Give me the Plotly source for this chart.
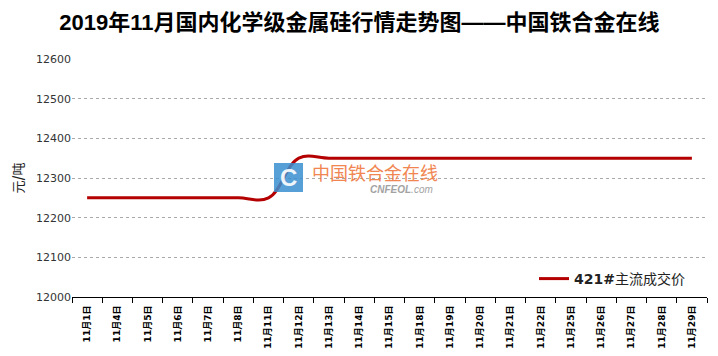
import plotly.graph_objects as go

dates = ["11月1日", "11月4日", "11月5日", "11月6日", "11月7日", "11月8日", "11月11日",
         "11月12日", "11月13日", "11月14日", "11月15日", "11月18日", "11月19日", "11月20日",
         "11月21日", "11月22日", "11月25日", "11月26日", "11月27日", "11月28日", "11月29日"]
prices = [12250, 12250, 12250, 12250, 12250, 12250, 12250,
          12350, 12350, 12350, 12350, 12350, 12350, 12350,
          12350, 12350, 12350, 12350, 12350, 12350, 12350]
y_ticks = [12000, 12100, 12200, 12300, 12400, 12500, 12600]
series_name = "<b>421#</b>主流成交价"
title_text = "2019年11月国内化学级金属硅行情走势图——中国铁合金在线"

# page body has an 8px default margin, so the figure is 8px smaller
W, H = 710, 348
L, R, T, B = 64, 11, 51, 59
PW = W - L - R
PH = H - T - B


def px(x):
    return (x - 8 - L) / PW


def py(y):
    return (H - B - (y - 8)) / PH


fig = go.Figure()
fig.add_trace(go.Scatter(
    x=dates, y=prices, mode="lines", name=series_name,
    line=dict(color="#b40000", width=3, shape="spline", smoothing=1.1),
))

fig.update_layout(
    width=W, height=H,
    margin=dict(l=L, r=R, t=T, b=B, autoexpand=False),
    paper_bgcolor="white", plot_bgcolor="white",
    title=dict(text="<b>" + title_text + "</b>", x=0.495, xanchor="center",
               y=1 - 14 / H, yanchor="middle",
               font=dict(family="Liberation Sans, Noto Sans CJK SC", size=22, color="black")),
    showlegend=True,
    legend=dict(x=px(690), xanchor="right", y=py(279), yanchor="middle",
                bgcolor="rgba(0,0,0,0)", itemwidth=30,
                font=dict(family="DejaVu Sans, Noto Sans CJK SC", size=14, color="#222")),
    font=dict(family="DejaVu Sans, Noto Sans CJK SC", color="#333"),
)

fig.update_xaxes(
    type="category", tickson="boundaries", ticks="outside", ticklen=5, tickcolor="black",
    showline=True, linecolor="black", linewidth=1, showgrid=False, automargin=False,
    tickangle=-90, ticklabelstandoff=4,
    tickfont=dict(size=9, color="black", weight="bold",
                  family="DejaVu Sans, Noto Sans CJK SC"),
    range=[-0.5, len(dates) - 0.5], zeroline=False,
)
fig.update_yaxes(
    range=[12000, 12600], tickvals=y_ticks, ticktext=[str(v) for v in y_ticks],
    showgrid=True, gridcolor="#aaa", griddash="dot", gridwidth=1, automargin=False,
    showline=False, zeroline=False, ticks="",
    tickfont=dict(size=11, color="#333", family="DejaVu Sans"),
    title=dict(text="元<b>/</b>吨", standoff=10,
               font=dict(size=13, color="#222", family="Noto Sans CJK SC")),
)

# watermark (logo)
fig.add_shape(type="rect", xref="paper", yref="paper",
              x0=px(274), x1=px(303), y0=py(192), y1=py(163),
              fillcolor="#3a8fd0", line=dict(width=0), layer="above", opacity=0.85)
fig.add_annotation(xref="paper", yref="paper", x=px(288.5), y=py(177.5),
                   text="<b>C</b>", showarrow=False,
                   font=dict(size=24, color="white", family="Liberation Sans"), opacity=0.9)
fig.add_annotation(xref="paper", yref="paper", x=px(310), y=py(172),
                   xanchor="left", yanchor="middle", text="中国铁合金在线", showarrow=False,
                   font=dict(size=18, color="#f07a40", family="Noto Sans CJK SC"), opacity=0.9)
fig.add_annotation(xref="paper", yref="paper", x=px(368), y=py(189),
                   xanchor="left", yanchor="middle", text="<b><i>CNFEOL</i></b><i>.com</i>",
                   showarrow=False,
                   font=dict(size=10, color="#999", family="Liberation Sans"), opacity=0.9)

fig.write_html("out.html")
